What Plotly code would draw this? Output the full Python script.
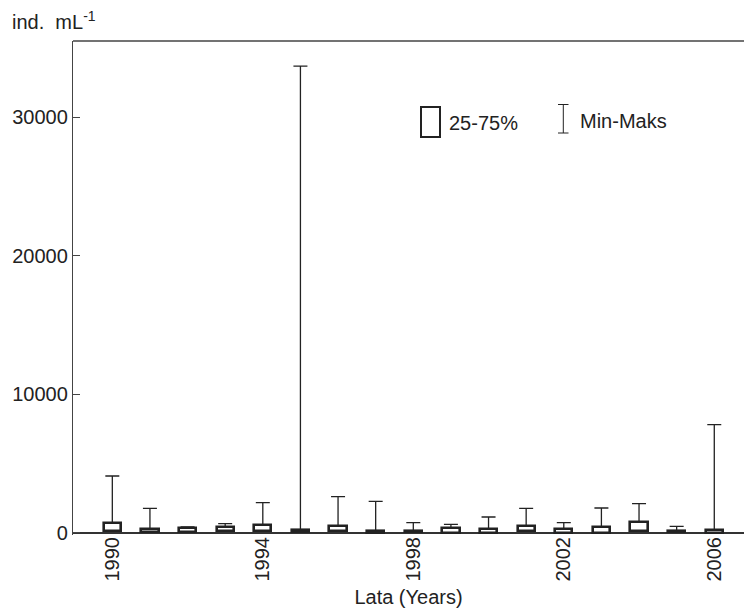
import plotly.graph_objects as go

# Yearly abundance statistics (ind. mL^-1)
years = list(range(1990, 2007))
q1 = [100, 20, 80, 100, 100, 30, 100, 0, 20, 0, 0, 100, 0, 0, 100, 20, 10]
q3 = [690, 250, 360, 380, 560, 180, 470, 90, 110, 350, 275, 490, 275, 375, 780, 130, 160]
maxima = [4090, 1755, 420, 650, 2165, 33700, 2600, 2260, 720, 600, 1130, 1760, 720, 1780, 2090, 460, 7800]

x_ticks = [1990, 1994, 1998, 2002, 2006]
y_ticks = [0, 10000, 20000, 30000]

FONT = "Liberation Sans, Arial, sans-serif"
INK = "#222222"
AXIS = "#444444"

fig = go.Figure()

# whiskers: from the 75% quartile up to the maximum
fig.add_trace(go.Scatter(
    x=years, y=q3, mode="markers",
    marker=dict(size=1, color="rgba(0,0,0,0)"),
    error_y=dict(type="data", symmetric=False,
                 array=[m - t for m, t in zip(maxima, q3)],
                 arrayminus=[0] * len(years),
                 color=INK, thickness=1.3, width=7),
    showlegend=False, hoverinfo="skip",
))

# 25-75% boxes
fig.add_trace(go.Bar(
    x=years, y=[t - b for t, b in zip(q3, q1)], base=q1,
    width=0.46,
    marker=dict(color="white", line=dict(color=INK, width=2.6)),
    showlegend=False,
))

PL, PT, PW, PH = 73, 41, 671, 494


def px(x):
    return (x - PL) / PW


def py(y):
    return 1 - (y - PT) / PH


shapes = [
    # top frame line
    dict(type="line", xref="paper", yref="paper", x0=0, x1=1, y0=1, y1=1,
         line=dict(color=AXIS, width=1.3)),
    # key: box symbol
    dict(type="rect", xref="paper", yref="paper",
         x0=px(421), x1=px(440), y0=py(137), y1=py(107),
         line=dict(color=INK, width=2), fillcolor="white"),
    # key: whisker symbol
    dict(type="line", xref="paper", yref="paper",
         x0=px(563.3), x1=px(563.3), y0=py(133), y1=py(104.5),
         line=dict(color=INK, width=1)),
    dict(type="line", xref="paper", yref="paper",
         x0=px(558), x1=px(568.5), y0=py(133), y1=py(133),
         line=dict(color=INK, width=1)),
    dict(type="line", xref="paper", yref="paper",
         x0=px(558), x1=px(568.5), y0=py(104.5), y1=py(104.5),
         line=dict(color=INK, width=1)),
]

annotations = [
    dict(text="25-75%", xref="paper", yref="paper",
         x=px(447), y=py(123),
         xanchor="left", yanchor="middle", showarrow=False,
         font=dict(family=FONT, size=20, color=INK)),
    dict(text="Min-Maks", xref="paper", yref="paper",
         x=px(578), y=py(121),
         xanchor="left", yanchor="middle", showarrow=False,
         font=dict(family=FONT, size=20, color=INK)),
    dict(text="ind.\u00a0\u00a0mL<sup>-1</sup>", xref="paper", yref="paper",
         x=px(10), y=py(6),
         xanchor="left", yanchor="top", showarrow=False,
         font=dict(family=FONT, size=20, color=INK)),
]

fig.update_layout(
    width=744, height=614,
    margin=dict(l=PL, r=0, t=PT, b=614 - PT - PH),
    paper_bgcolor="white", plot_bgcolor="white",
    bargap=0, showlegend=False,
    font=dict(family=FONT, size=20, color=INK),
    shapes=shapes, annotations=annotations,
    xaxis=dict(
        range=[1988.955, 2006.79],
        tickmode="array", tickvals=x_ticks, ticktext=[str(v) for v in x_ticks],
        tickangle=-90, ticks="", showgrid=False, zeroline=False,
        showline=False, ticklabelstandoff=-3,
        title=dict(text="Lata (Years)", font=dict(family=FONT, size=20, color=INK), standoff=9),
        tickfont=dict(family=FONT, size=20, color=INK),
    ),
    yaxis=dict(
        range=[-170, 35510],
        tickmode="array", tickvals=y_ticks, ticktext=[str(v) for v in y_ticks],
        ticks="inside", ticklen=7, tickcolor=AXIS, tickwidth=1.3,
        showgrid=False, zeroline=True, zerolinecolor="#333333", zerolinewidth=1.5,
        showline=True, linecolor=AXIS, linewidth=1.3,
        tickfont=dict(family=FONT, size=20, color=INK),
    ),
)

fig.write_html("out.html")
